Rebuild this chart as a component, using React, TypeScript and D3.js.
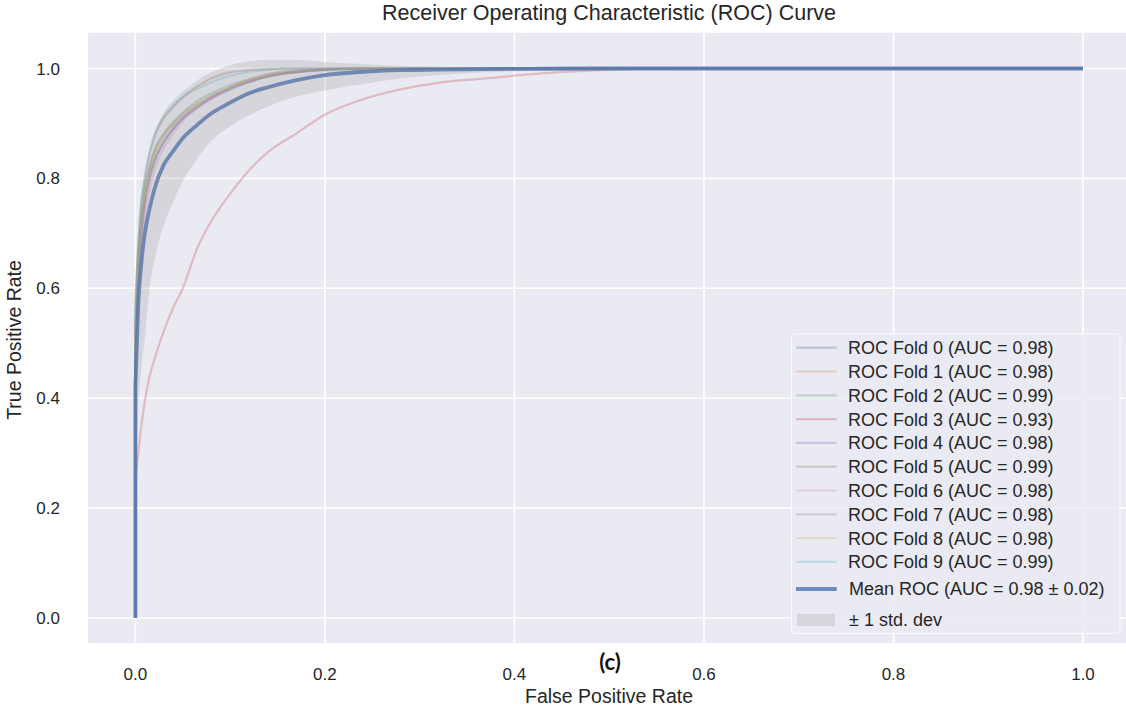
import React from "react";
import * as d3 from "d3";

// ---- data ----
const FPR = [0, 0, 0.003, 0.006, 0.01, 0.015, 0.02, 0.03, 0.04, 0.05, 0.065, 0.08, 0.1, 0.12, 0.14, 0.17, 0.2, 0.24, 0.28, 0.32, 0.37, 0.42, 0.48, 0.57, 0.7, 1.0];

const fold0 = [0, 0.50, 0.62, 0.70, 0.76, 0.80, 0.83, 0.865, 0.89, 0.908, 0.928, 0.945, 0.962, 0.975, 0.985, 0.993, 0.997, 0.999, 1, 1, 1, 1, 1, 1, 1, 1];
const fold1 = [0, 0.52, 0.63, 0.70, 0.765, 0.81, 0.838, 0.872, 0.895, 0.912, 0.932, 0.948, 0.965, 0.977, 0.986, 0.994, 0.998, 1, 1, 1, 1, 1, 1, 1, 1, 1];
const fold2 = [0, 0.54, 0.65, 0.72, 0.78, 0.82, 0.85, 0.882, 0.903, 0.92, 0.94, 0.955, 0.97, 0.981, 0.99, 0.996, 0.999, 1, 1, 1, 1, 1, 1, 1, 1, 1];
const fold3 = [0, 0.25, 0.30, 0.345, 0.395, 0.44, 0.47, 0.522, 0.565, 0.60, 0.672, 0.722, 0.772, 0.815, 0.848, 0.882, 0.916, 0.944, 0.962, 0.974, 0.982, 0.99, 0.996, 1, 1, 1];
const fold4 = [0, 0.50, 0.60, 0.68, 0.75, 0.80, 0.83, 0.866, 0.89, 0.91, 0.93, 0.947, 0.963, 0.976, 0.986, 0.994, 0.998, 1, 1, 1, 1, 1, 1, 1, 1, 1];
const fold5 = [0, 0.58, 0.68, 0.75, 0.80, 0.845, 0.875, 0.91, 0.93, 0.948, 0.967, 0.982, 0.993, 0.997, 0.999, 1, 1, 1, 1, 1, 1, 1, 1, 1, 1, 1];
const fold6 = [0, 0.45, 0.58, 0.66, 0.73, 0.78, 0.815, 0.855, 0.882, 0.905, 0.928, 0.946, 0.965, 0.98, 0.99, 0.997, 1, 1, 1, 1, 1, 1, 1, 1, 1, 1];
const fold7 = [0, 0.55, 0.65, 0.72, 0.78, 0.82, 0.85, 0.88, 0.90, 0.917, 0.935, 0.95, 0.966, 0.978, 0.987, 0.994, 0.998, 1, 1, 1, 1, 1, 1, 1, 1, 1];
const fold8 = [0, 0.52, 0.64, 0.71, 0.77, 0.815, 0.843, 0.876, 0.898, 0.915, 0.934, 0.95, 0.965, 0.978, 0.988, 0.995, 0.999, 1, 1, 1, 1, 1, 1, 1, 1, 1];
const fold9 = [0, 0.56, 0.68, 0.755, 0.805, 0.85, 0.88, 0.912, 0.933, 0.948, 0.963, 0.975, 0.987, 0.994, 0.998, 1, 1, 1, 1, 1, 1, 1, 1, 1, 1, 1];

const meanTPR = [0, 0.42, 0.57, 0.64, 0.70, 0.745, 0.78, 0.825, 0.85, 0.873, 0.897, 0.918, 0.938, 0.955, 0.966, 0.979, 0.988, 0.994, 0.997, 0.998, 0.999, 0.9995, 1, 1, 1, 1];
const upperTPR = [0, 0.62, 0.70, 0.76, 0.80, 0.845, 0.88, 0.92, 0.942, 0.958, 0.978, 0.993, 1.006, 1.013, 1.016, 1.016, 1.012, 1.008, 1.005, 1.003, 1.001, 1.0005, 1, 1, 1, 1];
const lowerTPR = [0, 0.15, 0.38, 0.45, 0.51, 0.60, 0.65, 0.715, 0.757, 0.795, 0.835, 0.868, 0.895, 0.915, 0.931, 0.949, 0.96, 0.972, 0.982, 0.988, 0.993, 0.996, 0.999, 1, 1, 1];

const foldAUC = ["0.98", "0.98", "0.99", "0.93", "0.98", "0.99", "0.98", "0.98", "0.98", "0.99"];
const folds = [fold0, fold1, fold2, fold3, fold4, fold5, fold6, fold7, fold8, fold9];
const meanLabel = "Mean ROC (AUC = 0.98 \u00b1 0.02)";
const stdLabel = "\u00b1 1 std. dev";

const xTicks = [0, 0.2, 0.4, 0.6, 0.8, 1.0];
const yTicks = [0, 0.2, 0.4, 0.6, 0.8, 1.0];

const palette = ["#4C72B0", "#DD8452", "#55A868", "#C44E52", "#8172B3", "#937860", "#DA8BC3", "#8C8C8C", "#CCB974", "#64B5CD"];

// ---- layout ----
const W = 1126;
const H = 708;
const FONT = "'Liberation Sans', Arial, sans-serif";
const TXT = "#262626";

export default function App() {
  const x = d3.scaleLinear().domain([-0.05, 1.05]).range([88, 1130.4]);
  const y = d3.scaleLinear().domain([-0.0455, 1.065]).range([643, 32.8]);
  const [px0, px1] = x.range();
  const [py0, py1] = y.range();

  // smooth (monotone) curve from the first strictly increasing x onwards,
  // with the initial vertical rise at fpr = 0 drawn as a straight segment
  const idx = d3.range(1, FPR.length);
  const curvePath = (tpr: number[]) => {
    const smooth = d3
      .line<number>()
      .curve(d3.curveMonotoneX)
      .x((i) => x(FPR[i]))
      .y((i) => y(tpr[i]))(idx) || "";
    return `M${x(FPR[0])},${y(tpr[0])}` + smooth.replace(/^M/, "L");
  };
  const bandPath =
    d3
      .area<number>()
      .curve(d3.curveMonotoneX)
      .x((i) => x(FPR[i]))
      .y0((i) => y(lowerTPR[i]))
      .y1((i) => y(upperTPR[i]))(idx) || "";

  const fmt = d3.format(".1f");
  const legX = 791.5;
  const legY = 334;
  const rowY = (i: number) => 347.7 + i * 23.8;
  const meanY = 589;
  const stdY = 620;

  return (
    <svg
      width={W}
      height={H}
      style={{ position: "absolute", left: 0, top: 0, background: "#fff" }}
      fontFamily={FONT}
    >
      <defs>
        <clipPath id="plotclip">
          <rect x={px0} y={py1} width={px1 - px0} height={py0 - py1} />
        </clipPath>
      </defs>
      <rect x={px0} y={py1} width={px1 - px0} height={py0 - py1} fill="#EAEAF2" />
      {xTicks.map((t) => (
        <line key={"gx" + t} x1={x(t)} x2={x(t)} y1={py1} y2={py0} stroke="#fff" strokeWidth={1.6} />
      ))}
      {yTicks.map((t) => (
        <line key={"gy" + t} x1={px0} x2={px1} y1={y(t)} y2={y(t)} stroke="#fff" strokeWidth={1.6} />
      ))}

      <g clipPath="url(#plotclip)">
        {folds.map((f, i) => (
          <path
            key={"f" + i}
            d={curvePath(f)}
            fill="none"
            stroke={palette[i]}
            strokeOpacity={0.3}
            strokeWidth={2.2}
            strokeLinejoin="round"
          />
        ))}
        <path
          d={curvePath(meanTPR)}
          fill="none"
          stroke="#4C72B0"
          strokeOpacity={0.8}
          strokeWidth={3.8}
          strokeLinejoin="round"
        />
        <path d={bandPath} fill="#808080" fillOpacity={0.2} stroke="none" />
      </g>

      {xTicks.map((t) => (
        <text key={"xt" + t} x={x(t)} y={680} textAnchor="middle" fontSize={17} fill={TXT}>
          {fmt(t)}
        </text>
      ))}
      {yTicks.map((t) => (
        <text key={"yt" + t} x={60} y={y(t) + 6} textAnchor="end" fontSize={17} fill={TXT}>
          {fmt(t)}
        </text>
      ))}

      <text x={609} y={20} textAnchor="middle" fontSize={21.5} fill={TXT}>
        Receiver Operating Characteristic (ROC) Curve
      </text>
      <text x={609} y={703} textAnchor="middle" fontSize={19.5} fill={TXT}>
        False Positive Rate
      </text>
      <text
        transform={`translate(21,340) rotate(-90)`}
        textAnchor="middle"
        fontSize={19.5}
        fill={TXT}
      >
        True Positive Rate
      </text>
      <text x={610} y={670} textAnchor="middle" fontSize={22} fontWeight="bold" fontFamily="Lato, 'Open Sans', sans-serif" fill="#111">
        (c)
      </text>

      {/* legend */}
      <rect
        x={legX}
        y={legY}
        width={1120 - legX}
        height={633.5 - legY}
        rx={4}
        fill="#EAEAF2"
        fillOpacity={0.8}
        stroke="#ffffff"
        strokeOpacity={0.8}
        strokeWidth={1}
      />
      {folds.map((_, i) => (
        <g key={"lg" + i}>
          <line x1={796} x2={836.7} y1={rowY(i)} y2={rowY(i)} stroke={palette[i]} strokeOpacity={0.3} strokeWidth={2.2} />
          <text x={848} y={rowY(i) + 6.4} fontSize={18} fill={TXT}>
            {`ROC Fold ${i} (AUC = ${foldAUC[i]})`}
          </text>
        </g>
      ))}
      <line x1={796} x2={836.7} y1={meanY} y2={meanY} stroke="#4C72B0" strokeOpacity={0.8} strokeWidth={3.8} />
      <text x={849} y={meanY + 6.4} fontSize={18} fill={TXT}>
        {meanLabel}
      </text>
      <rect x={797} y={stdY - 6} width={38} height={12} fill="#808080" fillOpacity={0.2} />
      <text x={849} y={stdY + 6.4} fontSize={18} fill={TXT}>
        {stdLabel}
      </text>
    </svg>
  );
}
